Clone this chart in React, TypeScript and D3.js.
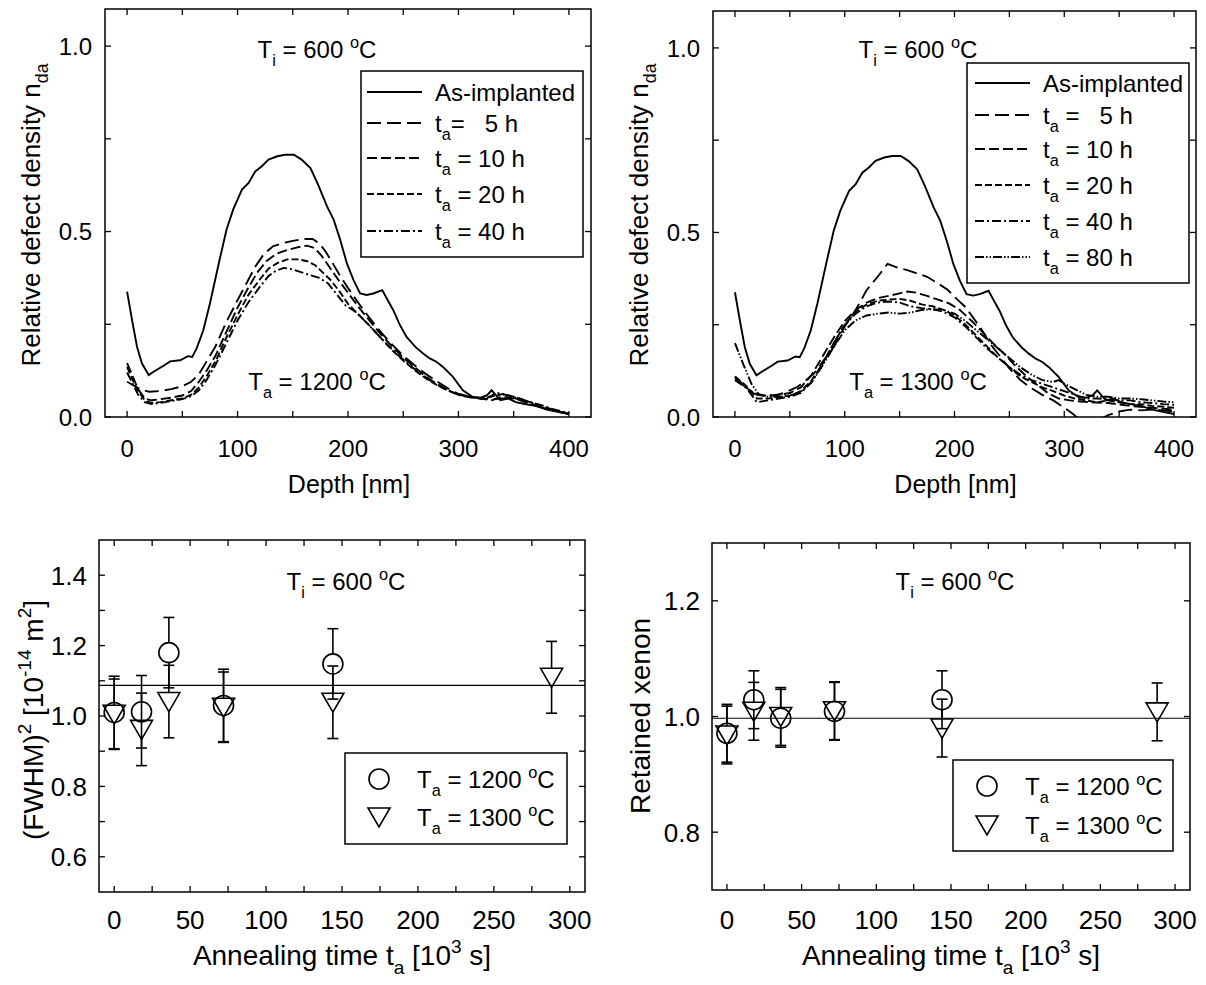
import React from "react";
import * as d3 from "d3";

const FONT = "'Liberation Sans', Arial, Helvetica, sans-serif";

// ---------------- DATA ----------------
// Depth profiles [depth nm, relative defect density]
const asImplanted: [number, number][] = [
  [0, 0.338], [4.5, 0.261], [9, 0.189], [13.5, 0.144], [19.6, 0.113], [24, 0.122], [33, 0.138], [39, 0.15],
  [48, 0.153], [55, 0.164], [59, 0.162], [63, 0.185], [69, 0.234], [75, 0.306], [83, 0.414], [90, 0.505],
  [96, 0.559], [104, 0.613], [110, 0.631], [116, 0.662], [122, 0.676], [128, 0.694], [136, 0.703], [143, 0.707],
  [151, 0.707], [158, 0.694], [166, 0.671], [173, 0.626], [181, 0.568], [187, 0.532], [193, 0.477], [199, 0.414],
  [205, 0.369], [211, 0.333], [217, 0.329], [223, 0.333], [231, 0.342], [235, 0.32], [241, 0.288], [247, 0.248],
  [253, 0.216], [261, 0.189], [268, 0.171], [274, 0.158], [280, 0.149], [286, 0.135], [295, 0.108], [304, 0.072],
  [313, 0.054], [320, 0.052], [326, 0.059], [330, 0.072], [338, 0.045], [345, 0.05], [352, 0.04], [360, 0.035],
  [370, 0.03], [380, 0.02], [390, 0.014], [400, 0.008],
];

// Ta = 1200 C
const tl5h: [number, number][] = [
  [0, 0.095], [6, 0.085], [12, 0.075], [20, 0.068], [30, 0.07], [40, 0.075], [50, 0.083], [58, 0.095], [65, 0.115],
  [72, 0.15], [80, 0.19], [90, 0.257], [100, 0.315], [108, 0.36], [116, 0.405], [124, 0.44], [132, 0.46], [140, 0.468],
  [150, 0.475], [160, 0.48], [168, 0.48], [174, 0.468], [180, 0.445], [186, 0.415], [192, 0.385], [200, 0.348],
  [210, 0.305], [220, 0.265], [230, 0.228], [240, 0.195], [250, 0.165], [260, 0.14], [270, 0.117], [280, 0.097],
  [290, 0.078], [300, 0.062], [310, 0.055], [320, 0.05], [330, 0.048], [340, 0.05], [350, 0.052], [360, 0.04],
  [370, 0.03], [380, 0.022], [390, 0.015], [400, 0.01],
];
const tl10h: [number, number][] = [
  [0, 0.145], [5, 0.11], [10, 0.075], [16, 0.05], [22, 0.045], [30, 0.048], [40, 0.052], [50, 0.058], [58, 0.07],
  [65, 0.095], [72, 0.125], [80, 0.165], [90, 0.23], [100, 0.295], [110, 0.35], [118, 0.39], [126, 0.42], [135, 0.44],
  [145, 0.45], [155, 0.458], [163, 0.462], [170, 0.455], [176, 0.435], [183, 0.405], [190, 0.375], [200, 0.335],
  [210, 0.295], [220, 0.258], [230, 0.222], [240, 0.19], [250, 0.16], [260, 0.135], [270, 0.11], [280, 0.09],
  [290, 0.073], [300, 0.06], [310, 0.053], [320, 0.05], [330, 0.045], [340, 0.055], [350, 0.05], [360, 0.042],
  [370, 0.032], [380, 0.022], [390, 0.014], [400, 0.008],
];
const tl20h: [number, number][] = [
  [0, 0.135], [5, 0.1], [10, 0.07], [16, 0.045], [22, 0.038], [30, 0.04], [40, 0.045], [50, 0.05], [58, 0.06],
  [65, 0.08], [72, 0.11], [80, 0.15], [90, 0.215], [100, 0.275], [110, 0.33], [120, 0.37], [128, 0.4], [136, 0.415],
  [145, 0.425], [155, 0.425], [163, 0.42], [170, 0.41], [177, 0.39], [184, 0.37], [192, 0.34], [200, 0.305],
  [210, 0.275], [220, 0.245], [230, 0.212], [240, 0.18], [250, 0.152], [260, 0.127], [270, 0.105], [280, 0.087],
  [290, 0.072], [300, 0.06], [310, 0.055], [320, 0.05], [330, 0.055], [340, 0.062], [350, 0.055], [360, 0.045],
  [370, 0.035], [380, 0.025], [390, 0.016], [400, 0.008],
];
const tl40h: [number, number][] = [
  [0, 0.12], [5, 0.09], [10, 0.06], [16, 0.04], [22, 0.035], [30, 0.038], [40, 0.043], [50, 0.048], [58, 0.056],
  [65, 0.072], [72, 0.1], [80, 0.14], [90, 0.2], [100, 0.26], [110, 0.31], [120, 0.35], [128, 0.38], [135, 0.395],
  [142, 0.402], [150, 0.398], [158, 0.39], [166, 0.382], [174, 0.375], [182, 0.36], [190, 0.33], [198, 0.3],
  [206, 0.285], [215, 0.26], [225, 0.228], [235, 0.197], [245, 0.168], [255, 0.142], [265, 0.118], [275, 0.097],
  [285, 0.08], [295, 0.066], [305, 0.058], [315, 0.053], [325, 0.05], [335, 0.065], [345, 0.058], [355, 0.05],
  [365, 0.04], [375, 0.032], [385, 0.022], [395, 0.014], [400, 0.01],
];

// Ta = 1300 C
const tr5h: [number, number][] = [
  [0, 0.105], [8, 0.085], [17, 0.064], [25, 0.06], [35, 0.058], [45, 0.065], [57, 0.082], [65, 0.1], [72, 0.118],
  [80, 0.15], [90, 0.19], [100, 0.245], [110, 0.29], [120, 0.344], [130, 0.38], [139, 0.415], [148, 0.405],
  [157, 0.398], [165, 0.39], [175, 0.38], [185, 0.362], [194, 0.344], [202, 0.32], [210, 0.298], [218, 0.265],
  [225, 0.236], [232, 0.2], [240, 0.17], [250, 0.132], [260, 0.1], [270, 0.078], [280, 0.06], [290, 0.045],
  [300, 0.025], [308, 0.008], [315, -0.01], [320, -0.02], [330, -0.01], [340, 0.005], [350, 0.015], [360, 0.02],
  [370, 0.018], [380, 0.02], [390, 0.018], [400, 0.015],
];
const tr10h: [number, number][] = [
  [0, 0.11], [10, 0.08], [20, 0.06], [30, 0.058], [40, 0.06], [50, 0.065], [60, 0.08], [70, 0.115], [80, 0.165],
  [90, 0.215], [100, 0.26], [110, 0.29], [120, 0.31], [130, 0.322], [140, 0.328], [150, 0.335], [157, 0.34],
  [165, 0.337], [175, 0.328], [185, 0.318], [195, 0.308], [205, 0.29], [215, 0.262], [225, 0.232], [235, 0.2],
  [245, 0.172], [255, 0.14], [265, 0.112], [275, 0.088], [285, 0.065], [295, 0.05], [305, 0.045], [315, 0.042],
  [325, 0.04], [340, 0.038], [360, 0.03], [380, 0.025], [400, 0.02],
];
const tr20h: [number, number][] = [
  [0, 0.11], [10, 0.085], [20, 0.05], [30, 0.05], [40, 0.053], [50, 0.058], [60, 0.07], [70, 0.1], [80, 0.145],
  [90, 0.2], [100, 0.25], [110, 0.285], [120, 0.305], [130, 0.315], [140, 0.318], [150, 0.32], [160, 0.315],
  [170, 0.305], [180, 0.3], [190, 0.29], [200, 0.275], [210, 0.25], [220, 0.22], [230, 0.19], [240, 0.16],
  [250, 0.135], [260, 0.11], [270, 0.095], [280, 0.08], [290, 0.07], [300, 0.058], [310, 0.05], [320, 0.045],
  [330, 0.04], [340, 0.045], [350, 0.04], [360, 0.035], [370, 0.035], [380, 0.03], [390, 0.028], [400, 0.025],
];
const tr40h: [number, number][] = [
  [0, 0.1], [10, 0.08], [20, 0.04], [30, 0.045], [40, 0.05], [50, 0.055], [60, 0.065], [70, 0.095], [80, 0.145],
  [90, 0.2], [100, 0.25], [110, 0.28], [120, 0.3], [130, 0.31], [140, 0.313], [150, 0.31], [160, 0.3], [170, 0.295],
  [180, 0.292], [190, 0.285], [200, 0.27], [210, 0.245], [220, 0.215], [230, 0.185], [240, 0.16], [250, 0.135],
  [260, 0.115], [270, 0.1], [280, 0.09], [290, 0.08], [300, 0.07], [310, 0.06], [320, 0.05], [330, 0.05],
  [340, 0.048], [350, 0.045], [360, 0.045], [370, 0.04], [380, 0.038], [390, 0.035], [400, 0.033],
];
const tr80h: [number, number][] = [
  [0, 0.2], [8, 0.14], [15, 0.09], [22, 0.06], [30, 0.055], [40, 0.055], [50, 0.058], [60, 0.068], [70, 0.095],
  [80, 0.14], [90, 0.19], [100, 0.235], [110, 0.262], [120, 0.275], [130, 0.28], [140, 0.283], [150, 0.28],
  [160, 0.283], [170, 0.29], [180, 0.292], [190, 0.29], [200, 0.28], [210, 0.26], [220, 0.235], [230, 0.21],
  [240, 0.185], [250, 0.16], [260, 0.135], [270, 0.115], [280, 0.1], [290, 0.095], [295, 0.1], [300, 0.09],
  [310, 0.075], [320, 0.06], [330, 0.055], [340, 0.055], [350, 0.05], [360, 0.05], [370, 0.048], [380, 0.045],
  [390, 0.042], [400, 0.04],
];

// Annealing time data (10^3 s)
const fwhmT1200 = [0, 18, 36, 72, 144];
const fwhmV1200 = [1.01, 1.012, 1.18, 1.03, 1.148];
const fwhmE1200 = [0.103, 0.103, 0.1, 0.103, 0.1];
const fwhmT1300 = [0, 18, 36, 72, 144, 288];
const fwhmV1300 = [1.005, 0.962, 1.041, 1.025, 1.039, 1.11];
const fwhmE1300 = [0.1, 0.103, 0.103, 0.1, 0.103, 0.102];
const fwhmMean = 1.087;

const xeT1200 = [0, 18, 36, 72, 144];
const xeV1200 = [0.971, 1.029, 0.997, 1.009, 1.029];
const xeE1200 = [0.05, 0.05, 0.05, 0.05, 0.05];
const xeT1300 = [0, 18, 36, 72, 144, 288];
const xeV1300 = [0.968, 1.009, 1.0, 1.01, 0.98, 1.008];
const xeE1300 = [0.05, 0.05, 0.05, 0.05, 0.05, 0.05];
const xeMean = 0.997;

const depthTicks = [0, 100, 200, 300, 400];
const depthMinor = [0, 50, 100, 150, 200, 250, 300, 350, 400];
const ndaTicks = [0, 0.5, 1.0];
const ndaMinor = [0, 0.25, 0.5, 0.75, 1.0];
const timeTicks = [0, 50, 100, 150, 200, 250, 300];
const timeMinor = [0, 25, 50, 75, 100, 125, 150, 175, 200, 225, 250, 275, 300];
const fwhmTicks = [0.6, 0.8, 1.0, 1.2, 1.4];
const fwhmMinor = [0.6, 0.7, 0.8, 0.9, 1.0, 1.1, 1.2, 1.3, 1.4];
const xeTicks = [0.8, 1.0, 1.2];

const legendTL = ["As-implanted", "5", "10", "20", "40"];
const legendTR = ["As-implanted", "5", "10", "20", "40", "80"];

// ---------------- HELPERS ----------------
type Seg = { t: string; sub?: boolean; sup?: boolean };

function Rich(props: { x: number; y: number; segs: Seg[]; size: number; anchor?: string; rotate?: boolean }) {
  const { x, y, segs, size, anchor = "start", rotate = false } = props;
  let shift = 0;
  const parts = segs.map((s, i) => {
    const target = s.sub ? size * 0.32 : s.sup ? -size * 0.42 : 0;
    const dy = target - shift;
    shift = target;
    return (
      <tspan key={i} dy={dy} fontSize={s.sub || s.sup ? size * 0.68 : size}>
        {s.t}
      </tspan>
    );
  });
  return (
    <text
      x={x}
      y={y}
      fontSize={size}
      fontFamily={FONT}
      textAnchor={anchor as any}
      transform={rotate ? `rotate(-90 ${x} ${y})` : undefined}
      style={{ whiteSpace: "pre" }}
      fill="#000"
    >
      {parts}
    </text>
  );
}

type Box = { l: number; r: number; t: number; b: number };

function Frame(props: {
  box: Box;
  xs: d3.ScaleLinear<number, number>;
  ys: d3.ScaleLinear<number, number>;
  xMinor: number[];
  yMinor: number[];
  xTicks: number[];
  yTicks: number[];
  xFmt: (v: number) => string;
  yFmt: (v: number) => string;
  tickSize: number;
  xLabelY: number;
  yLabelX: number;
}) {
  const { box, xs, ys, xMinor, yMinor, xTicks, yTicks, xFmt, yFmt, tickSize, xLabelY, yLabelX } = props;
  const L = 6;
  return (
    <g>
      <rect x={box.l} y={box.t} width={box.r - box.l} height={box.b - box.t} fill="none" stroke="#000" strokeWidth={1.5} />
      {xMinor.map((v) => (
        <g key={"xm" + v}>
          <line x1={xs(v)} x2={xs(v)} y1={box.b} y2={box.b - L} stroke="#000" strokeWidth={1.3} />
          <line x1={xs(v)} x2={xs(v)} y1={box.t} y2={box.t + L} stroke="#000" strokeWidth={1.3} />
        </g>
      ))}
      {yMinor.map((v) => (
        <g key={"ym" + v}>
          <line x1={box.l} x2={box.l + L} y1={ys(v)} y2={ys(v)} stroke="#000" strokeWidth={1.3} />
          <line x1={box.r} x2={box.r - L} y1={ys(v)} y2={ys(v)} stroke="#000" strokeWidth={1.3} />
        </g>
      ))}
      {xTicks.map((v) => (
        <text key={"xt" + v} x={xs(v)} y={xLabelY} fontSize={tickSize} fontFamily={FONT} textAnchor="middle">
          {xFmt(v)}
        </text>
      ))}
      {yTicks.map((v) => (
        <text key={"yt" + v} x={yLabelX} y={ys(v) + tickSize * 0.36} fontSize={tickSize} fontFamily={FONT} textAnchor="end">
          {yFmt(v)}
        </text>
      ))}
    </g>
  );
}

const DASHES = ["", "14,6", "10,4", "7,3", "9,3,2,3", "9,2,1.5,2,1.5,2"];

function DepthPanel(props: {
  id: string;
  box: Box;
  curves: [number, number][][];
  legend: string[];
  legendBox: Box;
  legendRows: number[];
  legendLineX: [number, number];
  legendTextX: number;
  compact: boolean;
  ta: string;
  annoX: number;
  yTitleX: number;
}) {
  const { id, box, curves, legend, legendBox, legendRows, legendLineX, legendTextX, compact, ta, annoX, yTitleX } = props;
  const xs = d3.scaleLinear().domain([-20, 420]).range([box.l, box.r]);
  const ys = d3.scaleLinear().domain([0, 1.1]).range([box.b, box.t]);
  const line = d3
    .line<[number, number]>()
    .x((d) => xs(d[0]))
    .y((d) => ys(d[1]));
  return (
    <g>
      <defs>
        <clipPath id={id}>
          <rect x={box.l} y={box.t} width={box.r - box.l} height={box.b - box.t} />
        </clipPath>
      </defs>
      <Frame
        box={box}
        xs={xs}
        ys={ys}
        xMinor={depthMinor}
        yMinor={ndaMinor}
        xTicks={depthTicks}
        yTicks={ndaTicks}
        xFmt={(v) => String(v)}
        yFmt={(v) => v.toFixed(1)}
        tickSize={24}
        xLabelY={457}
        yLabelX={box.l - 13}
      />
      <g clipPath={`url(#${id})`}>
        {curves.map((c, i) => (
          <path key={i} d={line(c) || ""} fill="none" stroke="#000" strokeWidth={1.9} strokeDasharray={DASHES[i]} />
        ))}
      </g>
      <rect
        x={legendBox.l}
        y={legendBox.t}
        width={legendBox.r - legendBox.l}
        height={legendBox.b - legendBox.t}
        fill="#fff"
        stroke="#000"
        strokeWidth={1.5}
      />
      {legend.map((lab, i) => (
        <g key={i}>
          <line
            x1={legendLineX[0]}
            x2={legendLineX[1]}
            y1={legendRows[i]}
            y2={legendRows[i]}
            stroke="#000"
            strokeWidth={1.9}
            strokeDasharray={DASHES[i]}
          />
          {i === 0 ? (
            <Rich x={legendTextX} y={legendRows[i] + 9} size={24} segs={[{ t: lab }]} />
          ) : (
            <Rich
              x={legendTextX}
              y={legendRows[i] + 9}
              size={24}
              segs={[
                { t: "t" },
                { t: "a", sub: true },
                { t: (compact && i === 1 ? "=" : " =") + (lab.length === 1 ? "   " : " ") + lab + " h" },
              ]}
            />
          )}
        </g>
      ))}
      <Rich x={annoX} y={58} size={24} anchor="middle" segs={[{ t: "T" }, { t: "i", sub: true }, { t: " = 600 " }, { t: "o", sup: true }, { t: "C" }]} />
      <Rich x={annoX} y={390} size={24} anchor="middle" segs={[{ t: "T" }, { t: "a", sub: true }, { t: ` = ${ta} ` }, { t: "o", sup: true }, { t: "C" }]} />
      <Rich x={(box.l + box.r) / 2 + 1} y={493} size={25} anchor="middle" segs={[{ t: "Depth [nm]" }]} />
      <Rich x={yTitleX} y={215} size={26} anchor="middle" rotate segs={[{ t: "Relative defect density n" }, { t: "da", sub: true }]} />
    </g>
  );
}

const R = 10;

function Marker(props: { kind: "circle" | "tri"; cx: number; cy: number }) {
  const { kind, cx, cy } = props;
  if (kind === "circle") return <circle cx={cx} cy={cy} r={R} fill="none" stroke="#000" strokeWidth={1.6} />;
  return (
    <path
      d={`M${cx - 11},${cy - 9}L${cx + 11},${cy - 9}L${cx},${cy + 10}Z`}
      fill="none"
      stroke="#000"
      strokeWidth={1.6}
      strokeLinejoin="miter"
    />
  );
}

function Markers(props: { kind: "circle" | "tri"; xs: any; ys: any; t: number[]; v: number[]; e: number[] }) {
  const { kind, xs, ys, t, v, e } = props;
  const upEdge = kind === "circle" ? R : 9;
  const downEdge = kind === "circle" ? R : 10;
  return (
    <g>
      {t.map((tt, i) => {
        const cx = xs(tt);
        const cy = ys(v[i]);
        const top = ys(v[i] + e[i]);
        const bot = ys(v[i] - e[i]);
        const half = 5.5;
        return (
          <g key={i}>
            {top < cy - upEdge && <line x1={cx} x2={cx} y1={top} y2={cy - upEdge} stroke="#000" strokeWidth={1.6} />}
            {bot > cy + downEdge && <line x1={cx} x2={cx} y1={cy + downEdge} y2={bot} stroke="#000" strokeWidth={1.6} />}
            <line x1={cx - half} x2={cx + half} y1={top} y2={top} stroke="#000" strokeWidth={1.6} />
            <line x1={cx - half} x2={cx + half} y1={bot} y2={bot} stroke="#000" strokeWidth={1.6} />
            <Marker kind={kind} cx={cx} cy={cy} />
          </g>
        );
      })}
    </g>
  );
}

function TimePanel(props: {
  box: Box;
  yDomain: [number, number];
  yTicks: number[];
  yMinor: number[];
  mean: number;
  t1: number[];
  v1: number[];
  e1: number[];
  t2: number[];
  v2: number[];
  e2: number[];
  legendBox: Box;
  legendRows: number[];
  markerX: number;
  textX: number;
  yTitle: Seg[];
  yTitleX: number;
  yTitleY: number;
  annoX: number;
}) {
  const p = props;
  const xs = d3.scaleLinear().domain([-10, 310]).range([p.box.l, p.box.r]);
  const ys = d3.scaleLinear().domain(p.yDomain).range([p.box.b, p.box.t]);
  return (
    <g>
      <Frame
        box={p.box}
        xs={xs}
        ys={ys}
        xMinor={timeMinor}
        yMinor={p.yMinor}
        xTicks={timeTicks}
        yTicks={p.yTicks}
        xFmt={(v) => String(v)}
        yFmt={(v) => v.toFixed(1)}
        tickSize={26}
        xLabelY={929}
        yLabelX={p.box.l - 12}
      />
      <line x1={p.box.l} x2={p.box.r} y1={ys(p.mean)} y2={ys(p.mean)} stroke="#000" strokeWidth={1.2} />
      <Markers kind="circle" xs={xs} ys={ys} t={p.t1} v={p.v1} e={p.e1} />
      <Markers kind="tri" xs={xs} ys={ys} t={p.t2} v={p.v2} e={p.e2} />
      <rect
        x={p.legendBox.l}
        y={p.legendBox.t}
        width={p.legendBox.r - p.legendBox.l}
        height={p.legendBox.b - p.legendBox.t}
        fill="#fff"
        stroke="#000"
        strokeWidth={1.5}
      />
      <Marker kind="circle" cx={p.markerX} cy={p.legendRows[0]} />
      <Marker kind="tri" cx={p.markerX} cy={p.legendRows[1]} />
      <Rich x={p.textX} y={p.legendRows[0] + 9} size={24} segs={[{ t: "T" }, { t: "a", sub: true }, { t: " = 1200 " }, { t: "o", sup: true }, { t: "C" }]} />
      <Rich x={p.textX} y={p.legendRows[1] + 9} size={24} segs={[{ t: "T" }, { t: "a", sub: true }, { t: " = 1300 " }, { t: "o", sup: true }, { t: "C" }]} />
      <Rich x={p.annoX} y={590} size={24} anchor="middle" segs={[{ t: "T" }, { t: "i", sub: true }, { t: " = 600 " }, { t: "o", sup: true }, { t: "C" }]} />
      <Rich
        x={(p.box.l + p.box.r) / 2}
        y={965}
        size={28}
        anchor="middle"
        segs={[{ t: "Annealing time t" }, { t: "a", sub: true }, { t: " [10" }, { t: "3", sup: true }, { t: " s]" }]}
      />
      <Rich x={p.yTitleX} y={p.yTitleY} size={28} anchor="middle" rotate segs={p.yTitle} />
    </g>
  );
}

export default function App() {
  return (
    <svg width={1206} height={985} viewBox="0 0 1206 985" style={{ display: "block", position: "absolute", left: 0, top: 0, background: "#fff" }}>
      <rect x={0} y={0} width={1206} height={985} fill="#fff" />
      <DepthPanel
        id="clipTL"
        box={{ l: 105, r: 591, t: 9, b: 417 }}
        curves={[asImplanted, tl5h, tl10h, tl20h, tl40h]}
        legend={legendTL}
        legendBox={{ l: 361, r: 583, t: 71, b: 257 }}
        legendRows={[92, 123, 158, 194, 231]}
        legendLineX={[367, 422]}
        legendTextX={435}
        compact={true}
        ta="1200"
        annoX={317}
        yTitleX={40}
      />
      <DepthPanel
        id="clipTR"
        box={{ l: 713, r: 1196, t: 11, b: 417 }}
        curves={[asImplanted, tr5h, tr10h, tr20h, tr40h, tr80h]}
        legend={legendTR}
        legendBox={{ l: 967, r: 1189, t: 63, b: 283 }}
        legendRows={[83, 115, 149, 185, 221, 257]}
        legendLineX={[975, 1030]}
        legendTextX={1043}
        compact={false}
        ta="1300"
        annoX={918}
        yTitleX={648}
      />
      <TimePanel
        box={{ l: 99, r: 585, t: 540, b: 892 }}
        yDomain={[0.5, 1.5]}
        yTicks={fwhmTicks}
        yMinor={fwhmMinor}
        mean={fwhmMean}
        t1={fwhmT1200}
        v1={fwhmV1200}
        e1={fwhmE1200}
        t2={fwhmT1300}
        v2={fwhmV1300}
        e2={fwhmE1300}
        legendBox={{ l: 345, r: 567, t: 753, b: 844 }}
        legendRows={[779, 817]}
        markerX={379}
        textX={417}
        yTitle={[{ t: "(FWHM)" }, { t: "2", sup: true }, { t: " [10" }, { t: "-14", sup: true }, { t: " m" }, { t: "2", sup: true }, { t: "]" }]}
        yTitleX={43}
        yTitleY={720}
        annoX={346}
      />
      <TimePanel
        box={{ l: 712, r: 1190, t: 543, b: 890 }}
        yDomain={[0.7, 1.3]}
        yTicks={xeTicks}
        yMinor={xeTicks}
        mean={xeMean}
        t1={xeT1200}
        v1={xeV1200}
        e1={xeE1200}
        t2={xeT1300}
        v2={xeV1300}
        e2={xeE1300}
        legendBox={{ l: 953, r: 1173, t: 760, b: 851 }}
        legendRows={[786, 825]}
        markerX={987}
        textX={1025}
        yTitle={[{ t: "Retained xenon" }]}
        yTitleX={650}
        yTitleY={716}
        annoX={955}
      />
    </svg>
  );
}
